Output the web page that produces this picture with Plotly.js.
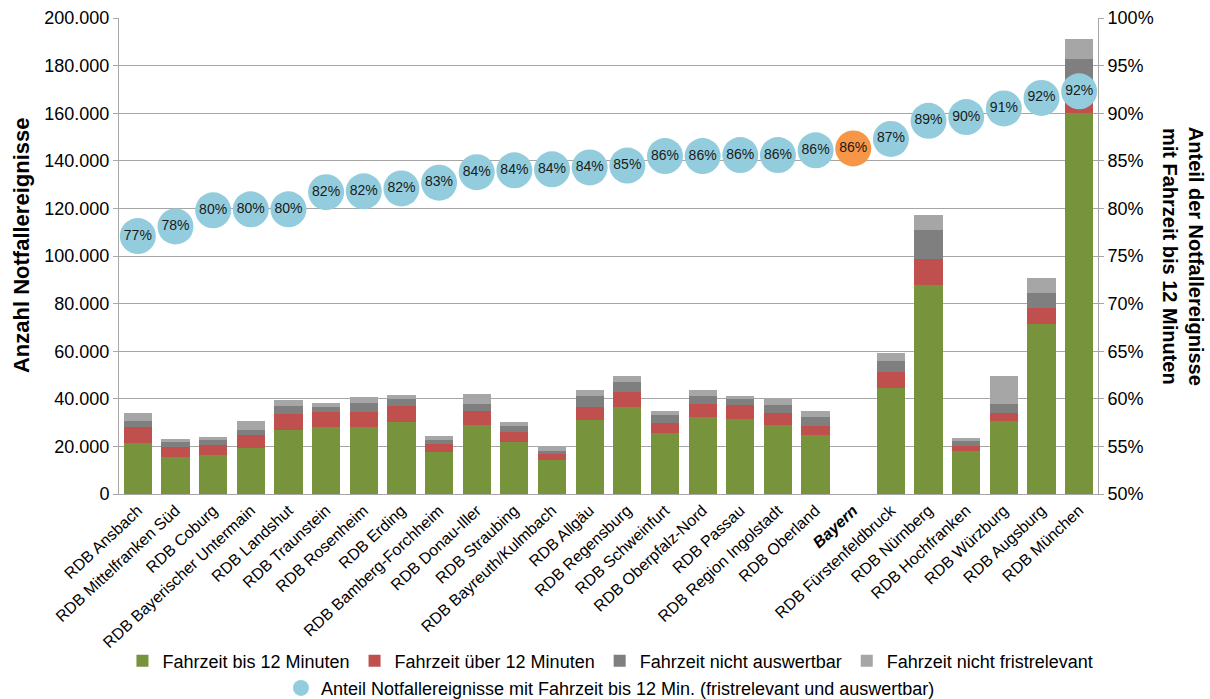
<!DOCTYPE html>
<html>
<head>
<meta charset="utf-8">
<script src="https://cdn.plot.ly/plotly-3.0.1.min.js"></script>
<style>html,body{margin:0;padding:0;background:#fff;}#chart{width:1210px;height:699px;}</style>
</head>
<body>
<div id="chart"></div>
<script>
const categories = ["RDB Ansbach","RDB Mittelfranken Süd","RDB Coburg","RDB Bayerischer Untermain","RDB Landshut","RDB Traunstein","RDB Rosenheim","RDB Erding","RDB Bamberg-Forchheim","RDB Donau-Iller","RDB Straubing","RDB Bayreuth/Kulmbach","RDB Allgäu","RDB Regensburg","RDB Schweinfurt","RDB Oberpfalz-Nord","RDB Passau","RDB Region Ingolstadt","RDB Oberland","<b><i>Bayern</i></b>","RDB Fürstenfeldbruck","RDB Nürnberg","RDB Hochfranken","RDB Würzburg","RDB Augsburg","RDB München"];

// stacked segment values (counts)
const bis12 =        [21300,15400,16500,19500,26900,28000,28000,30300,17800,29000,21800,14200,31000,36400,25500,32400,31600,29000,24800,null,44700,87800,18100,30700,71600,160000];
const ueber12 =      [6700,4500,4100,5300,6800,6300,6300,6500,3300,5900,4100,2700,5700,6600,4300,5500,5700,4900,3900,null,6600,10800,2200,3300,6500,8000];
const nichtAusw =    [2800,2100,2100,2100,3300,2400,3900,3100,1600,3000,2800,1300,4300,4100,3200,3400,2500,3400,3800,null,4600,12400,1800,3900,6500,14700];
const nichtFrist =   [3100,1200,1200,3600,2400,1500,2600,1700,1500,4200,1600,1500,2800,2500,1900,2400,1400,2500,2500,null,3500,6200,1400,11700,6300,8500];

// share with travel time up to 12 minutes (percent)
const anteil = [77.1,78.1,79.8,79.9,79.9,81.7,81.8,82.1,82.7,83.8,84.0,84.1,84.3,84.5,85.5,85.5,85.6,85.6,86.1,86.3,87.3,89.2,89.6,90.5,91.6,92.3];

const leftTicks = [0,20000,40000,60000,80000,100000,120000,140000,160000,180000,200000];
const rightTicks = [50,55,60,65,70,75,80,85,90,95,100];

const barColors = ["#77933C","#C0504D","#7F7F7F","#A6A6A6"];
const barNames = ["Fahrzeit bis 12 Minuten","Fahrzeit über 12 Minuten","Fahrzeit nicht auswertbar","Fahrzeit nicht fristrelevant"];
const barSeries = [bis12, ueber12, nichtAusw, nichtFrist];

const FONT = "Liberation Sans, Arial, sans-serif";

const traces = barSeries.map((vals, i) => ({
  type: "bar",
  x: categories,
  y: vals,
  name: barNames[i],
  marker: {color: barColors[i], line: {width: 0}},
  legend: "legend",
  hoverinfo: "skip"
}));

const markerColors = categories.map(c => c.indexOf("Bayern") >= 0 ? "#F79646" : "#93CDDD");

traces.push({
  type: "scatter",
  mode: "markers+text",
  x: categories,
  y: anteil,
  yaxis: "y2",
  name: "Anteil Notfallereignisse mit Fahrzeit bis 12 Min. (fristrelevant und auswertbar)",
  marker: {size: 36, color: markerColors, line: {width: 0}},
  text: anteil.map(v => Math.round(v) + "%"),
  textposition: "middle center",
  textfont: {family: FONT, size: 14, color: "#1a1a1a"},
  legend: "legend2",
  cliponaxis: false,
  hoverinfo: "skip"
});

const layout = {
  width: 1210,
  height: 699,
  margin: {l: 119, r: 112, t: 18, b: 205, autoexpand: false},
  paper_bgcolor: "#ffffff",
  plot_bgcolor: "#ffffff",
  separators: ",.",
  barmode: "stack",
  bargap: 0.25,
  font: {family: FONT, color: "#000000"},
  showlegend: true,
  xaxis: {
    type: "category",
    range: [-0.5, categories.length - 0.5],
    tickangle: -43,
    tickfont: {family: FONT, size: 16, color: "#000"},
    showline: true,
    linecolor: "#A6A6A6",
    linewidth: 1,
    ticks: "",
    showgrid: false,
    automargin: false
  },
  yaxis: {
    range: [0, 200000],
    tickvals: leftTicks,
    tickformat: ",d",
    tickfont: {family: FONT, size: 18, color: "#000"},
    showline: true,
    linecolor: "#A6A6A6",
    linewidth: 1,
    ticks: "outside",
    ticklen: 5,
    tickcolor: "#A6A6A6",
    showgrid: true,
    gridcolor: "#A6A6A6",
    gridwidth: 1,
    zeroline: false,
    automargin: false
  },
  yaxis2: {
    overlaying: "y",
    side: "right",
    range: [50, 100],
    tickvals: rightTicks,
    ticktext: rightTicks.map(v => v + "%"),
    tickfont: {family: FONT, size: 18, color: "#000"},
    showline: true,
    linecolor: "#A6A6A6",
    linewidth: 1,
    ticks: "outside",
    ticklen: 5,
    tickcolor: "#A6A6A6",
    showgrid: false,
    zeroline: false,
    automargin: false
  },
  legend: {
    orientation: "h",
    x: 0.502, xanchor: "center",
    y: -0.351, yanchor: "middle",
    font: {family: FONT, size: 18, color: "#000"},
    traceorder: "normal",
    itemwidth: 30,
    bgcolor: "rgba(0,0,0,0)"
  },
  legend2: {
    orientation: "h",
    x: 0.502, xanchor: "center",
    y: -0.408, yanchor: "middle",
    font: {family: FONT, size: 18, color: "#000"},
    itemwidth: 30,
    bgcolor: "rgba(0,0,0,0)"
  },
  annotations: [
    {
      text: "<b>Anzahl Notfallereignisse</b>",
      xref: "paper", yref: "paper",
      x: -0.1001, y: 0.523,
      xanchor: "center", yanchor: "middle",
      textangle: -90,
      showarrow: false,
      font: {family: FONT, size: 22, color: "#000"}
    },
    {
      text: "<b>Anteil der Notfallereignisse<br>mit Fahrzeit bis 12 Minuten</b>",
      xref: "paper", yref: "paper",
      x: 1.087, y: 0.5,
      xanchor: "center", yanchor: "middle",
      textangle: 90,
      showarrow: false,
      font: {family: FONT, size: 20, color: "#000"}
    }
  ]
};

Plotly.newPlot("chart", traces, layout, {displayModeBar: false, staticPlot: true});
</script>
</body>
</html>
